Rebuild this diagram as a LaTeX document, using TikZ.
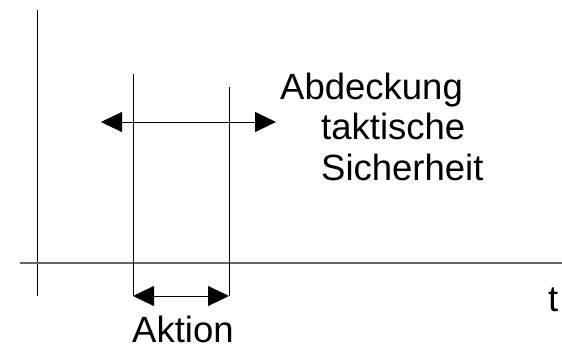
\documentclass[tikz,border=0pt]{standalone}
\usepackage{fontspec}
\setmainfont{Liberation Sans}
\usetikzlibrary{arrows.meta}
\begin{document}
\begin{tikzpicture}[x=1pt,y=-1pt,
  thinline/.style={line width=0.9pt,black},
  axisline/.style={line width=1.4pt,black!60},
  span/.style={line width=0.9pt,black,{Triangle[length=21pt,width=20pt]}-{Triangle[length=21pt,width=20pt]}},
  lbl/.style={anchor=base west,inner sep=0pt,font=\fontsize{36.5}{40}\selectfont}]
\useasboundingbox (0,0) rectangle (562,346);
% axes
\coordinate (yTop) at (37,10);
\coordinate (yBot) at (37,296);
\coordinate (xL) at (20,263);
\coordinate (xR) at (562,263);
\draw[thinline] (yTop) -- (yBot);
\draw[axisline] (xL) -- (xR);
% interval boundaries
\coordinate (aTop) at (133,74);
\coordinate (aBot) at (133,296);
\coordinate (bTop) at (229,87);
\coordinate (bBot) at (229,296);
\draw[thinline] (aTop) -- (aBot);
\draw[thinline] (bTop) -- (bBot);
% coverage span
\coordinate (cL) at (101,122);
\coordinate (cR) at (276,122);
\draw[span] (cL) -- (cR);
% action span
\draw[span] (aBot) -- (bBot);
% labels
\node[lbl] (abd) at (280,99) {Abdeckung};
\node[lbl] (tak) at (321,139) {taktische};
\node[lbl] (sich) at (321,180) {Sicherheit};
\node[lbl] (akt) at (132,342) {Aktion};
\node[lbl] (t) at (548,311) {t};
\end{tikzpicture}
\end{document}
